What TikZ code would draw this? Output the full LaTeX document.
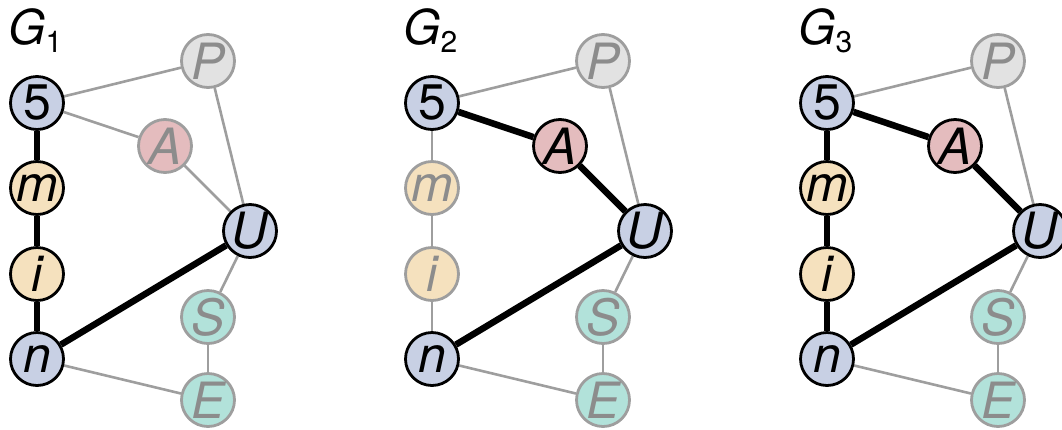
\documentclass[tikz,border=0pt]{standalone}
\usepackage{fontspec}
\setmainfont{TeX Gyre Heros}
\usetikzlibrary{backgrounds}
\definecolor{cblue}{RGB}{200,208,228}
\definecolor{corange}{RGB}{245,225,190}
\definecolor{cred}{RGB}{228,188,190}
\definecolor{cgreen}{RGB}{178,226,218}
\definecolor{cgray}{RGB}{226,226,226}
\definecolor{fadeline}{RGB}{158,158,158}
\definecolor{fadetext}{RGB}{140,140,140}
\tikzset{
  vtx/.style={circle, minimum size=53pt, inner sep=0pt, line width=2.8pt, draw=black, text=black, font=\fontsize{50}{50}\selectfont\itshape},
  faded/.style={draw=fadeline, text=fadetext},
  thin edge/.style={draw=fadeline, line width=2.6pt},
  thick edge/.style={draw=black, line width=6.5pt},
  glabel/.style={anchor=base west, inner sep=0pt, font=\fontsize{48}{48}\selectfont\itshape},
}
\newcommand{\sub}[1]{\raisebox{-0.18em}{\upshape\fontsize{30}{30}\selectfont #1}}
\begin{document}
\begin{tikzpicture}[x=1pt,y=-1pt]
\useasboundingbox (0,0) rectangle (1062,429);
% ---------- G1 ----------
\begin{scope}[xshift=0pt]
\node[glabel] (g1) at (8,44) {G\sub{1}};
\node[vtx, fill=cblue] (f1) at (37,103) {\upshape 5};
\node[vtx, fill=corange] (m1) at (37,188) {m};
\node[vtx, fill=corange] (i1) at (37,274) {i};
\node[vtx, fill=cblue] (n1) at (37,359) {n};
\node[vtx, fill=cgray, faded] (p1) at (208,61) {P};
\node[vtx, fill=cred, faded] (a1) at (165,146) {A};
\node[vtx, fill=cblue] (u1) at (250,231) {U};
\node[vtx, fill=cgreen, faded] (s1) at (208,317) {S};
\node[vtx, fill=cgreen, faded] (e1) at (208,400) {E};
\begin{scope}[on background layer]
\draw[thin edge] (f1) -- (p1);
\draw[thin edge] (f1) -- (a1);
\draw[thin edge] (a1) -- (u1);
\draw[thin edge] (p1) -- (u1);
\draw[thin edge] (u1) -- (s1);
\draw[thin edge] (s1) -- (e1);
\draw[thin edge] (n1) -- (e1);
\draw[thick edge] (f1) -- (m1);
\draw[thick edge] (m1) -- (i1);
\draw[thick edge] (i1) -- (n1);
\draw[thick edge] (n1) -- (u1);
\end{scope}
\end{scope}
% ---------- G2 ----------
\begin{scope}[xshift=395pt]
\node[glabel] (g2) at (8,44) {G\sub{2}};
\node[vtx, fill=cblue] (f2) at (37,103) {\upshape 5};
\node[vtx, fill=corange, faded] (m2) at (37,188) {m};
\node[vtx, fill=corange, faded] (i2) at (37,274) {i};
\node[vtx, fill=cblue] (n2) at (37,359) {n};
\node[vtx, fill=cgray, faded] (p2) at (208,61) {P};
\node[vtx, fill=cred] (a2) at (165,146) {A};
\node[vtx, fill=cblue] (u2) at (250,231) {U};
\node[vtx, fill=cgreen, faded] (s2) at (208,317) {S};
\node[vtx, fill=cgreen, faded] (e2) at (208,400) {E};
\begin{scope}[on background layer]
\draw[thin edge] (f2) -- (p2);
\draw[thin edge] (f2) -- (m2);
\draw[thin edge] (m2) -- (i2);
\draw[thin edge] (i2) -- (n2);
\draw[thin edge] (p2) -- (u2);
\draw[thin edge] (u2) -- (s2);
\draw[thin edge] (s2) -- (e2);
\draw[thin edge] (n2) -- (e2);
\draw[thick edge] (f2) -- (a2);
\draw[thick edge] (a2) -- (u2);
\draw[thick edge] (n2) -- (u2);
\end{scope}
\end{scope}
% ---------- G3 ----------
\begin{scope}[xshift=790pt]
\node[glabel] (g3) at (8,44) {G\sub{3}};
\node[vtx, fill=cblue] (f3) at (37,103) {\upshape 5};
\node[vtx, fill=corange] (m3) at (37,188) {m};
\node[vtx, fill=corange] (i3) at (37,274) {i};
\node[vtx, fill=cblue] (n3) at (37,359) {n};
\node[vtx, fill=cgray, faded] (p3) at (208,61) {P};
\node[vtx, fill=cred] (a3) at (165,146) {A};
\node[vtx, fill=cblue] (u3) at (250,231) {U};
\node[vtx, fill=cgreen, faded] (s3) at (208,317) {S};
\node[vtx, fill=cgreen, faded] (e3) at (208,400) {E};
\begin{scope}[on background layer]
\draw[thin edge] (f3) -- (p3);
\draw[thin edge] (p3) -- (u3);
\draw[thin edge] (u3) -- (s3);
\draw[thin edge] (s3) -- (e3);
\draw[thin edge] (n3) -- (e3);
\draw[thick edge] (f3) -- (m3);
\draw[thick edge] (m3) -- (i3);
\draw[thick edge] (i3) -- (n3);
\draw[thick edge] (f3) -- (a3);
\draw[thick edge] (a3) -- (u3);
\draw[thick edge] (n3) -- (u3);
\end{scope}
\end{scope}
\end{tikzpicture}
\end{document}
